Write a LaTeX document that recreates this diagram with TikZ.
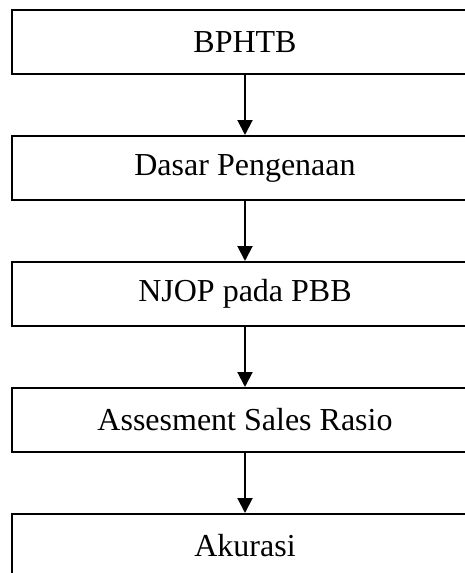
\documentclass[tikz,border=0pt]{standalone}
\usepackage{fontspec}
\setmainfont{Liberation Serif}
\usetikzlibrary{arrows.meta, positioning}

\begin{document}
\begin{tikzpicture}[
    node distance=30pt,
    box/.style={
        rectangle,
        draw,
        line width=1pt,
        minimum width=233pt,
        minimum height=32pt,
        align=center,
        font=\fontsize{16pt}{19pt}\selectfont
    },
    arrow/.style={
        -{Triangle[length=7.5pt, width=7.5pt]},
        line width=1pt
    }
]

% Frame
\clip (0,0) rectangle (232.5pt,-286.5pt);

% Nodes
\node[box] (bphtb) at (122.5pt,-21pt) {BPHTB};
\node[box, below=of bphtb] (dasar) {Dasar Pengenaan};
\node[box, below=of dasar] (njop) {NJOP pada PBB};
\node[box, below=of njop] (asr) {Assesment Sales Rasio};
\node[box, below=of asr] (akurasi) {Akurasi};

% Arrows
\draw[arrow] (bphtb) -- (dasar);
\draw[arrow] (dasar) -- (njop);
\draw[arrow] (njop) -- (asr);
\draw[arrow] (asr) -- (akurasi);

\end{tikzpicture}
\end{document}
